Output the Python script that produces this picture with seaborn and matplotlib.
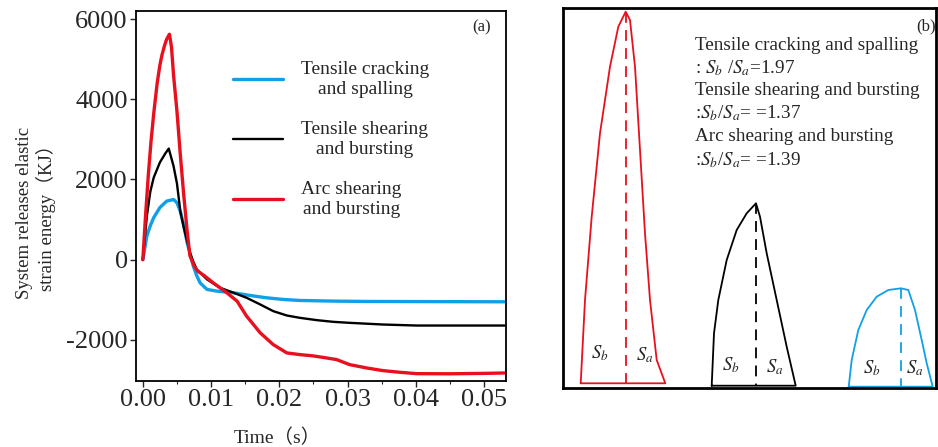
import numpy as np
import pandas as pd
import matplotlib
matplotlib.use("Agg")
import matplotlib.pyplot as plt
import seaborn as sns

sns.set_style("white")
plt.rcParams['font.family'] = ['Liberation Serif', 'Noto Sans CJK SC', 'DejaVu Sans']
plt.rcParams['mathtext.fontset'] = 'stix'

# ---------------- data: panel (a) ----------------
series_names = ["Tensile cracking\nand spalling",
                "Tensile shearing\nand bursting",
                "Arc shearing\nand bursting"]

t_blue = [0, 0.0006, 0.0011, 0.0016, 0.0025, 0.0035, 0.0045, 0.005, 0.0055, 0.006,
          0.0065, 0.007, 0.0074, 0.0079, 0.0084, 0.0094, 0.0108, 0.0133, 0.0157,
          0.0181, 0.0206, 0.023, 0.0279, 0.0328, 0.053]
e_blue = [0, 600, 850, 1050, 1300, 1460, 1500, 1420, 1200, 850,
          420, 100, -160, -400, -580, -742, -783, -825, -892,
          -950, -992, -1017, -1033, -1042, -1050]

t_black = [0, 0.0006, 0.0011, 0.0016, 0.0025, 0.0033, 0.0038, 0.0045, 0.005, 0.0055,
           0.006, 0.0065, 0.0069, 0.0074, 0.0079, 0.0094, 0.0113, 0.0133, 0.0152,
           0.0172, 0.0191, 0.0211, 0.023, 0.0255, 0.0279, 0.0303, 0.0352, 0.0401, 0.053]
e_black = [0, 1100, 1700, 2050, 2425, 2650, 2770, 2333, 1900, 1200,
           800, 450, 175, -50, -242, -492, -700, -825, -950,
           -1117, -1283, -1392, -1450, -1508, -1550, -1575, -1617, -1642, -1642]

t_red = [0, 0.0004, 0.0008, 0.0012, 0.0016, 0.0021, 0.0025, 0.0028, 0.0032, 0.0035, 0.0039,
         0.0042, 0.0045, 0.005,
         0.0055, 0.006, 0.0065, 0.0069, 0.0075, 0.008, 0.009, 0.0103, 0.0123, 0.0138,
         0.0152, 0.0172, 0.0191, 0.0211, 0.023, 0.025, 0.0269, 0.0284, 0.0303, 0.0328,
         0.0352, 0.0377, 0.0401, 0.045, 0.05, 0.053]
e_red = [0, 1100, 2100, 2950, 3650, 4400, 4850, 5100, 5350, 5500, 5620,
         5300, 4600, 3700,
         2600, 1600, 700, 100, -150, -280, -400, -575, -825, -1033,
         -1408, -1825, -2117, -2325, -2367, -2400, -2450, -2492, -2617, -2700,
         -2767, -2808, -2842, -2845, -2835, -2825]

colors = ["#10A0E6", "#000000", "#E8101E"]
widths = [2.4, 1.7, 2.4]

x_ticks = [0.00, 0.01, 0.02, 0.03, 0.04, 0.05]
y_ticks = [-2000, 0, 2000, 4000, 6000]

# ---------------- data: panel (b) schematic outlines ----------------
red_x = [17.7, 22, 28.7, 37, 47, 55.3, 62.7, 67, 72, 77, 82, 87, 93.7, 102.3, 17.7]
red_y = [4.7, 88, 171.3, 254.7, 321.3, 361.3, 376.3, 368, 321.3, 238, 154.7, 88, 28, 4.7, 4.7]
black_x = [148.7, 151, 155.3, 163.7, 173.7, 183.7, 193, 197, 203.7, 213.7, 223.7, 232.7, 148.7]
black_y = [2.3, 54.7, 88, 128, 158, 174.7, 184.7, 171.3, 134.7, 88, 41.3, 2.3, 2.3]
blue_x = [285.7, 288.7, 295.3, 303.7, 313.7, 325.3, 338, 345.3, 352, 358.7, 363.7, 369.7, 285.7]
blue_y = [1.3, 28, 58, 78, 91.3, 98, 99.7, 98, 78, 48, 24.7, 1.3, 1.3]
apex_x = [62.7, 193, 338]
apex_y = [376.3, 184.7, 99.7]
base_y = [4.7, 2.3, 1.3]
sb_pos = [(37, 34.7), (167.7, 23), (308.7, 19.7)]
sa_pos = [(82, 33), (212, 21.3), (352, 19.7)]
info_lines = ["Tensile cracking and spalling",
              ": $S_b$ /$S_a$=1.97",
              "Tensile shearing and bursting",
              ":$S_b$/$S_a$= =1.37",
              "Arc shearing and bursting",
              ":$S_b$/$S_a$= =1.39"]
info_y = [343, 319.7, 297.3, 274.7, 251.3, 228]

# ---------------- figure ----------------
W, H = 938, 447
fig = plt.figure(figsize=(W / 100, H / 100), dpi=100)
ax = fig.add_axes([136 / W, (H - 381) / H, 370 / W, 370 / H])
axb = fig.add_axes([563 / W, (H - 388) / H, 373 / W, 380 / H])

frames = []
for name, t, e in zip(series_names, [t_blue, t_black, t_red], [e_blue, e_black, e_red]):
    frames.append(pd.DataFrame({"time": t, "energy": e, "series": name}))
df = pd.concat(frames, ignore_index=True)

for name, c, lw in zip(series_names, colors, widths):
    sub = df[df["series"] == name]
    sns.lineplot(data=sub, x="time", y="energy", ax=ax, color=c, linewidth=lw,
                 estimator=None, label=name)

ax.set_xlim(-0.001, 0.0532)
ax.set_ylim(-3025, 6200)
ax.set_xticks(x_ticks)
ax.set_xticklabels([f"{v:.2f}" for v in x_ticks])
ax.set_xticks([0.005, 0.015, 0.025, 0.035, 0.045], minor=True)
ax.set_yticks(y_ticks)
ax.set_yticklabels([str(v) for v in y_ticks])
ax.tick_params(axis='both', which='major', direction='out', length=4, width=1,
               labelsize=19, bottom=True, left=True, pad=2)
ax.tick_params(axis='x', which='minor', direction='out', length=2.5, width=0.8, bottom=True)
for s in ax.spines.values():
    s.set_linewidth(1.3)
    s.set_color("black")
ax.set_xlabel("Time（s）", fontsize=14)
ax.xaxis.set_label_coords(0.381, -0.128)
ax.set_ylabel("System releases elastic\nstrain energy（KJ）", fontsize=13.5)
ax.yaxis.set_label_coords(-0.215, 0.454)
ax.text(0.935, 0.955, "(a)", transform=ax.transAxes, ha="center", va="center", fontsize=12)

leg = ax.legend(loc="upper left", bbox_to_anchor=(0.262, 0.864), frameon=False,
                fontsize=14, handlelength=2.6, handletextpad=0.9, labelspacing=1.2,
                borderpad=0, borderaxespad=0)
for txt in leg.get_texts():
    txt.set_multialignment("center")

# ---------------- panel (b) ----------------
axb.set_xlim(0, 373)
axb.set_ylim(0, 380)
axb.set_xticks([])
axb.set_yticks([])
for s in axb.spines.values():
    s.set_linewidth(2)
    s.set_color("black")
    s.set_visible(True)

outline_x = [red_x, black_x, blue_x]
outline_y = [red_y, black_y, blue_y]
outline_colors = ["#E8101E", "#000000", "#10A0E6"]
for xs, ys, c, ax0, ay0, by0 in zip(outline_x, outline_y, outline_colors, apex_x, apex_y, base_y):
    axb.plot(xs, ys, color=c, linewidth=1.3)
    axb.plot([ax0, ax0], [ay0, by0], color=c, linewidth=1.3, linestyle=(0, (6, 4)))

for (sx, sy), (ax2, ay2) in zip(sb_pos, sa_pos):
    axb.text(sx, sy, "$S_b$", ha="center", va="center", fontsize=13.5)
    axb.text(ax2, ay2, "$S_a$", ha="center", va="center", fontsize=13.5)

for line, yy in zip(info_lines, info_y):
    axb.text(132, yy, line, ha="left", va="center", fontsize=13.8)
axb.text(363, 362, "(b)", ha="center", va="center", fontsize=12)

fig.savefig("out.png", dpi=100)
